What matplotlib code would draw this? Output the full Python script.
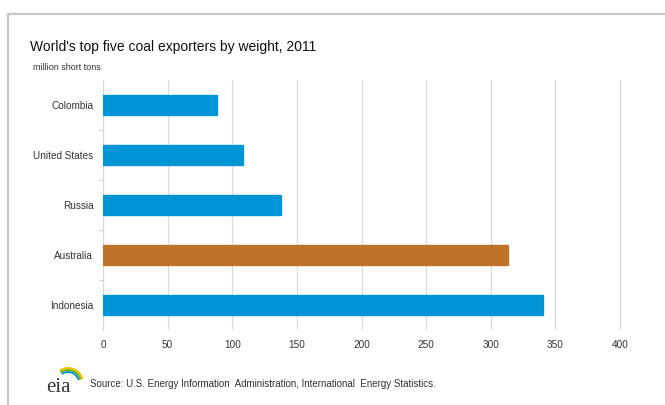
import matplotlib as mpl
mpl.use('Agg')

import matplotlib.pyplot as plt
from matplotlib.lines import Line2D
from matplotlib.patches import Arc

countries = ['Colombia', 'United States', 'Russia', 'Australia', 'Indonesia']
exports = [88, 108, 138, 313, 340]
colors = ['#0096d6', '#0096d6', '#0096d6', '#bd732a', '#0096d6']
xticks = [0, 50, 100, 150, 200, 250, 300, 350, 400]

plt.rcParams['font.family'] = ['Liberation Sans', 'DejaVu Sans']

W, H = 665, 405
fig = plt.figure(figsize=(W / 100, H / 100), dpi=100)
fig.patch.set_facecolor('white')

# outer frame (top and left grey lines)
fig.add_artist(Line2D([8 / W, 1], [1 - 14 / H, 1 - 14 / H], color='#c8c8c8', lw=1.6))
fig.add_artist(Line2D([8 / W, 8 / W], [0, 1 - 14 / H], color='#c8c8c8', lw=1.6))

ax = fig.add_axes([103 / W, 1 - 330 / H, (622 - 103) / W, 250 / H])
ypos = list(range(len(countries)))[::-1]
ax.barh(ypos, exports, height=0.4, color=colors, edgecolor=colors, zorder=3)
ax.set_xlim(0, 401.5)
ax.set_ylim(-0.5, 4.5)
ax.set_xticks(xticks)
ax.set_xticklabels([str(t) for t in xticks], fontsize=7.2, color='#333333')
ax.set_yticks(ypos)
ax.set_yticklabels(countries, fontsize=7.2, color='#333333')
ax.tick_params(axis='x', length=0, pad=7)
ax.tick_params(axis='y', length=0, pad=7)
# small separator ticks between categories
ax.set_yticks([0.5, 1.5, 2.5, 3.5], minor=True)
ax.tick_params(axis='y', which='minor', length=3, color='#d0d0d0', width=0.8)
ax.grid(axis='x', color='#dcdcdc', lw=0.9, zorder=0)
for s in ['top', 'right', 'bottom']:
    ax.spines[s].set_visible(False)
ax.spines['left'].set_color('#d8d8d8')
ax.spines['left'].set_linewidth(0.8)

fig.text(30 / W, 1 - 47 / H, "World's top five coal exporters by weight, 2011",
         fontsize=10, color='#111111', va='center')
fig.text(33 / W, 1 - 67 / H, 'million short tons', fontsize=6.5,
         color='#333333', va='center')
fig.text(90 / W, 1 - 384 / H,
         'Source: U.S. Energy Information  Administration, International  Energy Statistics.',
         fontsize=7, color='#333333', va='center')

# eia logo
lax = fig.add_axes([44 / W, 1 - 397 / H, 40 / W, 36 / H])
lax.set_xlim(0, 40)
lax.set_ylim(0, 36)
lax.axis('off')
lax.text(2, 9, 'eia', fontsize=15, family='Liberation Serif', color='#333333', va='center')
for r, c in [(15, '#f2c300'), (13, '#7ab800'), (11, '#0096d6')]:
    lax.add_patch(Arc((24, 14), 2 * r, 2 * r, theta1=15, theta2=125, color=c, lw=1.4))

fig.savefig('out.png', dpi=100)
